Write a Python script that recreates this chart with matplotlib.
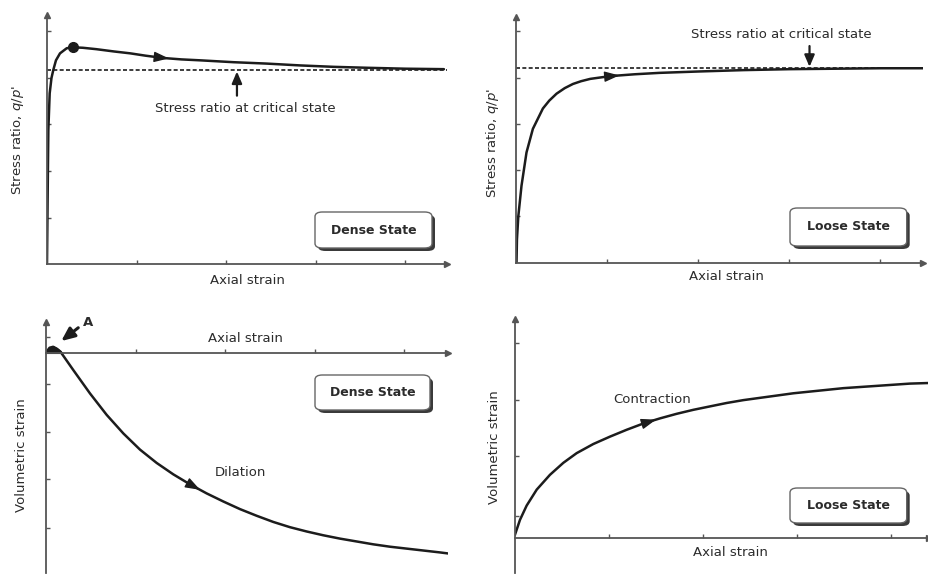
import matplotlib
matplotlib.use("Agg")
import matplotlib.pyplot as plt
import numpy as np
from matplotlib.patches import FancyBboxPatch

plt.rcParams['font.family'] = ['DejaVu Sans']
plt.rcParams['mathtext.fontset'] = 'dejavusans'

# ---------------- data (arbitrary units) ----------------
# Top-left: dense state, stress ratio vs axial strain
dense_q_x = [0, 0.005, 0.01, 0.015, 0.03, 0.05, 0.07, 0.10, 0.145, 0.22, 0.29, 0.40,
             0.55, 0.75, 0.93, 1.10, 1.30, 1.50, 1.71, 2.08, 2.45, 2.83, 3.20, 3.57,
             4.00, 4.43]
dense_q_y = [0, 1.0, 2.0, 2.88, 3.67, 4.00, 4.17, 4.38, 4.53, 4.64, 4.66, 4.65,
             4.62, 4.57, 4.53, 4.48, 4.43, 4.40, 4.38, 4.34, 4.31, 4.27, 4.24, 4.22,
             4.20, 4.19]
dense_crit = 4.17
dense_peak = (0.29, 4.66)

# Top-right: loose state, stress ratio vs axial strain
loose_q_x = [0, 0.005, 0.02, 0.055, 0.11, 0.18, 0.29, 0.36, 0.44, 0.53, 0.62, 0.71,
             0.81, 1.03, 1.30, 1.57, 2.00, 2.50, 3.00, 3.50, 4.00, 4.47]
loose_q_y = [0, 0.5, 1.0, 1.66, 2.38, 2.89, 3.33, 3.50, 3.65, 3.77, 3.86, 3.92,
             3.97, 4.03, 4.07, 4.10, 4.13, 4.16, 4.18, 4.19, 4.20, 4.20]
loose_crit = 4.20

# Bottom-left: dense state, volumetric strain vs axial strain
dense_v_x = [0, 0.04, 0.08, 0.12, 0.16, 0.175, 0.305, 0.491, 0.677, 0.863, 1.049,
             1.235, 1.421, 1.607, 1.793, 1.979, 2.165, 2.351, 2.537, 2.723, 2.909,
             3.095, 3.281, 3.467, 3.653, 3.839, 4.025, 4.211, 4.397, 4.48]
dense_v_y = [0, 0.10, 0.12, 0.08, 0.02, -0.02, -0.37, -0.86, -1.31, -1.70, -2.04,
             -2.32, -2.56, -2.77, -2.96, -3.13, -3.29, -3.43, -3.56, -3.67, -3.76,
             -3.84, -3.91, -3.97, -4.03, -4.08, -4.12, -4.16, -4.20, -4.22]

# Bottom-right: loose state, volumetric strain vs axial strain
loose_v_x = [0, 0.053, 0.124, 0.231, 0.372, 0.514, 0.656, 0.833, 1.011, 1.188, 1.365,
             1.543, 1.720, 1.897, 2.074, 2.252, 2.429, 2.606, 2.784, 2.961, 3.138,
             3.316, 3.493, 3.670, 3.848, 4.025, 4.202, 4.397]
loose_v_y = [0.05, 0.31, 0.56, 0.84, 1.10, 1.31, 1.48, 1.64, 1.77, 1.89, 2.00,
             2.09, 2.17, 2.24, 2.30, 2.36, 2.41, 2.45, 2.49, 2.53, 2.56,
             2.59, 2.62, 2.64, 2.66, 2.68, 2.70, 2.71]

xticks = [1, 2, 3, 4]
tl_yticks = [1, 2, 3, 4, 5]
tr_yticks = [1, 2, 3, 4, 5]
bl_yticks = [0.33, -0.67, -1.66, -2.66, -3.68]
br_yticks = [0.37, 1.43, 2.42, 3.42]

# ---------------- styling ----------------
W, H = 929, 574
AX_C = '#555555'
CURVE_C = '#1c1c1c'
TXT_C = '#2b2b2b'
FS = 9.5

fig = plt.figure(figsize=(W / 100, H / 100), dpi=100)


def make_axes(left, right, top, bottom, xunit, yunit, x0_px, y0_px):
    ax = fig.add_axes([left / W, 1 - bottom / H, (right - left) / W, (bottom - top) / H])
    ax.set_xlim((left - x0_px) / xunit, (right - x0_px) / xunit)
    ax.set_ylim((y0_px - bottom) / yunit, (y0_px - top) / yunit)
    ax.patch.set_alpha(0)
    for s in ('top', 'right'):
        ax.spines[s].set_visible(False)
    for s in ('left', 'bottom'):
        ax.spines[s].set_position(('data', 0))
        ax.spines[s].set_color(AX_C)
        ax.spines[s].set_linewidth(1.3)
    ax.tick_params(direction='in', length=3, width=1, color=AX_C,
                   labelbottom=False, labelleft=False)
    ax.plot(1, 0, '>', color=AX_C, ms=4, transform=ax.get_yaxis_transform(), clip_on=False)
    ax.plot(0, 1, '^', color=AX_C, ms=4, transform=ax.get_xaxis_transform(), clip_on=False)
    return ax


def curve_arrow(ax, xs, ys, xpos, d=0.06):
    x1, x2 = xpos - d, xpos + d
    y1, y2 = np.interp(x1, xs, ys), np.interp(x2, xs, ys)
    ax.annotate('', xy=(x2, y2), xytext=(x1, y1),
                arrowprops=dict(arrowstyle='-|>,head_length=0.9,head_width=0.32',
                                fc=CURVE_C, ec=CURVE_C, lw=1, shrinkA=0, shrinkB=0))


def state_box(x0, y0, x1, y1, label):
    sh = FancyBboxPatch(((x0 + 3) / W, 1 - (y1 + 3) / H), (x1 - x0) / W, (y1 - y0) / H,
                        boxstyle='round,pad=0,rounding_size=0.008',
                        transform=fig.transFigure, fc='#3a3a3a', ec='none', zorder=5)
    bx = FancyBboxPatch((x0 / W, 1 - y1 / H), (x1 - x0) / W, (y1 - y0) / H,
                        boxstyle='round,pad=0,rounding_size=0.008',
                        transform=fig.transFigure, fc='white', ec='#666666', lw=1, zorder=6)
    fig.patches.extend([sh, bx])
    fig.text((x0 + x1) / 2 / W, 1 - (y0 + y1) / 2 / H, label, ha='center', va='center',
             fontsize=9, weight='bold', color=TXT_C, zorder=7)


def ftext(x, y, s, **kw):
    fig.text(x / W, 1 - y / H, s, ha='center', va='center', fontsize=FS, color=TXT_C, **kw)


arrow_kw = dict(arrowstyle='-|>,head_length=0.7,head_width=0.3', fc=CURVE_C, ec=CURVE_C,
                lw=1.6, shrinkA=0, shrinkB=0)

# ---------------- top-left ----------------
ax1 = make_axes(47, 447, 15, 264, 89.6, 46.5, 47, 264)
ax1.set_xticks(xticks)
ax1.set_yticks(tl_yticks)
ax1.axhline(dense_crit, color=CURVE_C, lw=1.2, ls=(0, (2.4, 1.4)))
ax1.plot(dense_q_x, dense_q_y, color=CURVE_C, lw=1.8, solid_capstyle='round')
ax1.plot(*dense_peak, 'o', color=CURVE_C, ms=7)
curve_arrow(ax1, dense_q_x, dense_q_y, 1.30)
ax1.annotate('', xy=(2.12, dense_crit - 0.03), xytext=(2.12, 3.62), arrowprops=arrow_kw)
ftext(245, 108, 'Stress ratio at critical state')
ftext(18, 140, "Stress ratio, $q/p$'", rotation=90)
ftext(247, 280, 'Axial strain')
state_box(315, 212, 432, 248, 'Dense State')

# ---------------- top-right ----------------
ax2 = make_axes(516.5, 923, 17, 262.5, 91, 46.25, 516.5, 262.5)
ax2.set_xticks(xticks)
ax2.set_yticks(tr_yticks)
ax2.axhline(loose_crit, color=CURVE_C, lw=1.2, ls=(0, (2.4, 1.4)))
ax2.plot(loose_q_x, loose_q_y, color=CURVE_C, lw=1.8)
curve_arrow(ax2, loose_q_x, loose_q_y, 1.07)
ax2.annotate('', xy=(3.22, loose_crit + 0.03), xytext=(3.22, 4.68), arrowprops=arrow_kw)
ftext(781.7, 35, 'Stress ratio at critical state')
ftext(493, 143, "Stress ratio, $q/p$'", rotation=90)
ftext(726.7, 276, 'Axial strain')
state_box(790, 208, 906.7, 246, 'Loose State')

# ---------------- bottom-left ----------------
ax3 = make_axes(46, 448, 322, 573, 89.6, 47.6, 46, 352.5)
ax3.set_xticks(xticks)
ax3.set_yticks(bl_yticks)
ax3.plot(dense_v_x, dense_v_y, color=CURVE_C, lw=1.8)
ax3.fill_between(dense_v_x[:6], dense_v_y[:6], 0, color=CURVE_C, lw=1.5)
curve_arrow(ax3, dense_v_x, dense_v_y, 1.66)
ax3.annotate('', xy=(0.17, 0.24), xytext=(0.36, 0.52),
             arrowprops=dict(arrowstyle='-|>,head_length=0.8,head_width=0.35',
                             fc=CURVE_C, ec=CURVE_C, lw=2.2, shrinkA=0, shrinkB=0),
             annotation_clip=False)
ftext(88.3, 322.7, 'A', weight='bold')
ftext(245, 339, 'Axial strain')
ftext(240, 472.7, 'Dilation')
ftext(21.7, 455, 'Volumetric strain', rotation=90)
state_box(315, 375, 430, 410, 'Dense State')

# ---------------- bottom-right ----------------
ax4 = make_axes(515, 929, 319, 573, 94, 57, 515, 537.5)
ax4.set_xticks(xticks)
ax4.set_yticks(br_yticks)
ax4.plot(loose_v_x, loose_v_y, color=CURVE_C, lw=1.8)
curve_arrow(ax4, loose_v_x, loose_v_y, 1.44)
ftext(651.7, 399.3, 'Contraction')
ftext(730, 552.7, 'Axial strain')
ftext(495, 446.7, 'Volumetric strain', rotation=90)
state_box(790, 488, 906.7, 523, 'Loose State')

fig.savefig('out.png', dpi=100)
